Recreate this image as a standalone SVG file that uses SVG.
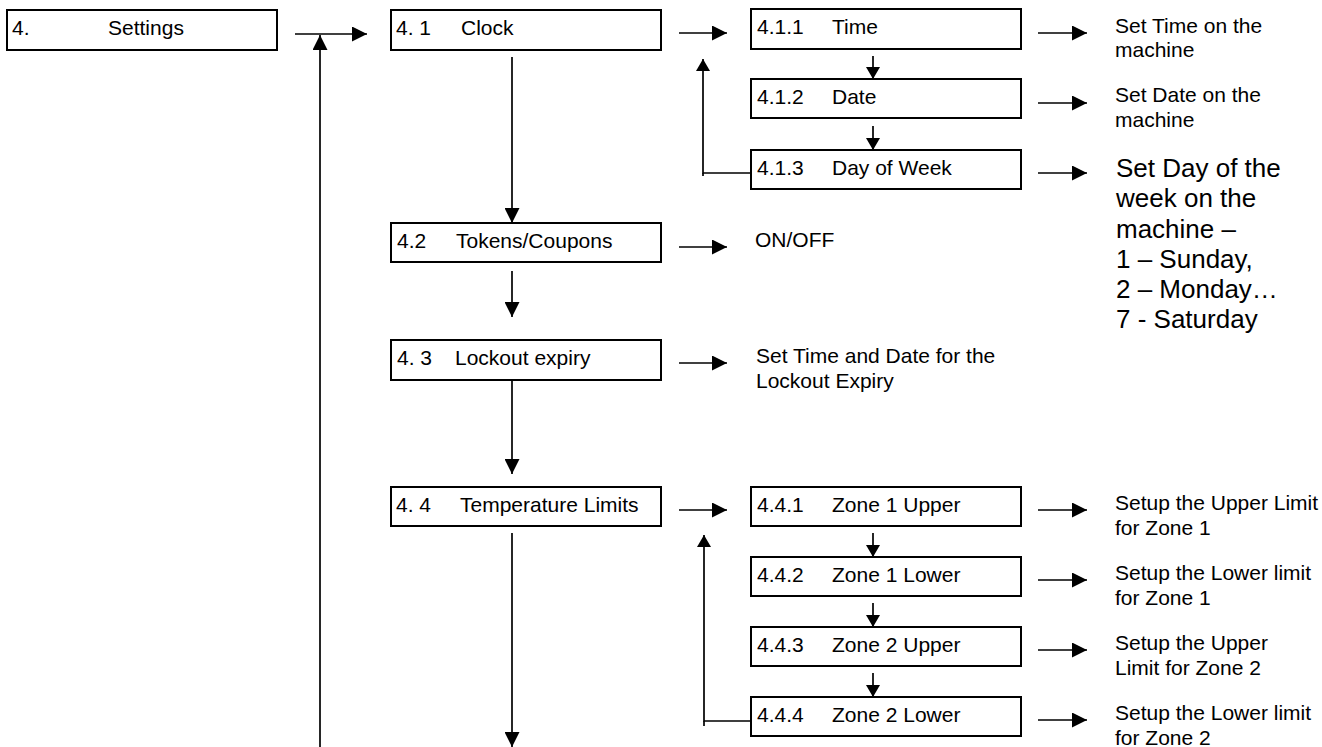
<svg xmlns="http://www.w3.org/2000/svg" width="1322" height="747" viewBox="0 0 1322 747">
<style>
  .box { fill: #ffffff; stroke: #000000; stroke-width: 2; }
  .t { font-family: "Liberation Sans", Arial, sans-serif; font-size: 21px; fill: #000000; }
  .big { font-family: "Liberation Sans", Arial, sans-serif; font-size: 26px; fill: #000000; }
  .c { fill: none; stroke: #000000; stroke-width: 1.7; }
  .ah { marker-end: url(#arr); }
  .as { marker-end: url(#arrs); }
</style>
<defs>
  <marker id="arr" markerUnits="userSpaceOnUse" markerWidth="15" markerHeight="15" refX="15" refY="7.5" orient="auto">
    <path d="M0,0 L15,7.5 L0,15 z" fill="#000000"/>
  </marker>
  <marker id="arrs" markerUnits="userSpaceOnUse" markerWidth="13" markerHeight="14" refX="12" refY="7" orient="auto">
    <path d="M0,0 L12,7 L0,14 z" fill="#000000"/>
  </marker>
</defs>
<rect width="1322" height="747" fill="#ffffff"/>

<g id="connectors">
  <line class="c ah" x1="295" y1="34" x2="367" y2="34"/>
  <line class="c ah" x1="320" y1="747" x2="320" y2="35"/>
  <line class="c ah" x1="679" y1="33" x2="727" y2="33"/>
  <line class="c ah" x1="512" y1="57" x2="512" y2="223"/>
  <line class="c ah" x1="512" y1="271" x2="512" y2="317"/>
  <line class="c ah" x1="679" y1="247" x2="727" y2="247"/>
  <line class="c ah" x1="512" y1="380" x2="512" y2="474"/>
  <line class="c ah" x1="679" y1="363" x2="727" y2="363"/>
  <line class="c ah" x1="679" y1="510" x2="727" y2="510"/>
  <line class="c ah" x1="512" y1="533" x2="512" y2="747"/>
  <line class="c as" x1="873" y1="56" x2="873" y2="79"/>
  <line class="c as" x1="873" y1="126" x2="873" y2="150"/>
  <polyline class="c as" points="751,173 703,173 703,59"/>
  <line class="c" x1="703" y1="173" x2="703" y2="176"/>
  <line class="c as" x1="873" y1="533" x2="873" y2="557"/>
  <line class="c as" x1="873" y1="603" x2="873" y2="627"/>
  <line class="c as" x1="873" y1="673" x2="873" y2="697"/>
  <polyline class="c as" points="751,721 704,721 704,535"/>
  <line class="c" x1="704" y1="721" x2="704" y2="726"/>
  <line class="c ah" x1="1038" y1="33" x2="1087" y2="33"/>
  <line class="c ah" x1="1038" y1="103" x2="1087" y2="103"/>
  <line class="c ah" x1="1038" y1="173" x2="1087" y2="173"/>
  <line class="c ah" x1="1038" y1="510" x2="1087" y2="510"/>
  <line class="c ah" x1="1038" y1="580" x2="1087" y2="580"/>
  <line class="c ah" x1="1038" y1="650" x2="1087" y2="650"/>
  <line class="c ah" x1="1038" y1="720" x2="1087" y2="720"/>
</g>

<g id="n4">
  <rect class="box" x="7" y="10" width="270" height="40"/>
  <text class="t" x="12" y="35">4.</text>
  <text class="t" x="108" y="35">Settings</text>
</g>
<g id="n41">
  <rect class="box" x="391" y="10" width="270" height="40"/>
  <text class="t" x="396" y="35">4. 1</text>
  <text class="t" x="461" y="35">Clock</text>
</g>
<g id="n42">
  <rect class="box" x="391" y="223" width="270" height="39"/>
  <text class="t" x="397" y="248">4.2</text>
  <text class="t" x="456" y="248">Tokens/Coupons</text>
</g>
<g id="n43">
  <rect class="box" x="391" y="340" width="270" height="40"/>
  <text class="t" x="397" y="365">4. 3</text>
  <text class="t" x="455" y="365">Lockout expiry</text>
</g>
<g id="n44">
  <rect class="box" x="391" y="487" width="270" height="39"/>
  <text class="t" x="396" y="512">4. 4</text>
  <text class="t" x="460" y="512">Temperature Limits</text>
</g>
<g id="n411">
  <rect class="box" x="751" y="9" width="270" height="40"/>
  <text class="t" x="757" y="34">4.1.1</text>
  <text class="t" x="832" y="34">Time</text>
</g>
<g id="n412">
  <rect class="box" x="751" y="79" width="270" height="39"/>
  <text class="t" x="757" y="104">4.1.2</text>
  <text class="t" x="832" y="104">Date</text>
</g>
<g id="n413">
  <rect class="box" x="751" y="150" width="270" height="39"/>
  <text class="t" x="757" y="175">4.1.3</text>
  <text class="t" x="832" y="175">Day of Week</text>
</g>
<g id="n441">
  <rect class="box" x="751" y="487" width="270" height="39"/>
  <text class="t" x="757" y="512">4.4.1</text>
  <text class="t" x="832" y="512">Zone 1 Upper</text>
</g>
<g id="n442">
  <rect class="box" x="751" y="557" width="270" height="39"/>
  <text class="t" x="757" y="582">4.4.2</text>
  <text class="t" x="832" y="582">Zone 1 Lower</text>
</g>
<g id="n443">
  <rect class="box" x="751" y="627" width="270" height="39"/>
  <text class="t" x="757" y="652">4.4.3</text>
  <text class="t" x="832" y="652">Zone 2 Upper</text>
</g>
<g id="n444">
  <rect class="box" x="751" y="697" width="270" height="39"/>
  <text class="t" x="757" y="722">4.4.4</text>
  <text class="t" x="832" y="722">Zone 2 Lower</text>
</g>

<g id="d411">
  <text class="t" x="1115" y="33">Set Time on the</text>
  <text class="t" x="1115" y="57">machine</text>
</g>
<g id="d412">
  <text class="t" x="1115" y="102">Set Date on the</text>
  <text class="t" x="1115" y="127">machine</text>
</g>
<g id="d413">
  <text class="big" x="1116" y="177">Set Day of the</text>
  <text class="big" x="1116" y="207">week on the</text>
  <text class="big" x="1116" y="238">machine –</text>
  <text class="big" x="1116" y="268">1 – Sunday,</text>
  <text class="big" x="1116" y="298">2 – Monday…</text>
  <text class="big" x="1116" y="328">7 - Saturday</text>
</g>
<g id="d42">
  <text class="t" x="755" y="247">ON/OFF</text>
</g>
<g id="d43">
  <text class="t" x="756" y="363">Set Time and Date for the</text>
  <text class="t" x="756" y="388">Lockout Expiry</text>
</g>
<g id="d441">
  <text class="t" x="1115" y="510">Setup the Upper Limit</text>
  <text class="t" x="1115" y="535">for Zone 1</text>
</g>
<g id="d442">
  <text class="t" x="1115" y="580">Setup the Lower limit</text>
  <text class="t" x="1115" y="605">for Zone 1</text>
</g>
<g id="d443">
  <text class="t" x="1115" y="650">Setup the Upper</text>
  <text class="t" x="1115" y="675">Limit for Zone 2</text>
</g>
<g id="d444">
  <text class="t" x="1115" y="720">Setup the Lower limit</text>
  <text class="t" x="1115" y="745">for Zone 2</text>
</g>
</svg>
